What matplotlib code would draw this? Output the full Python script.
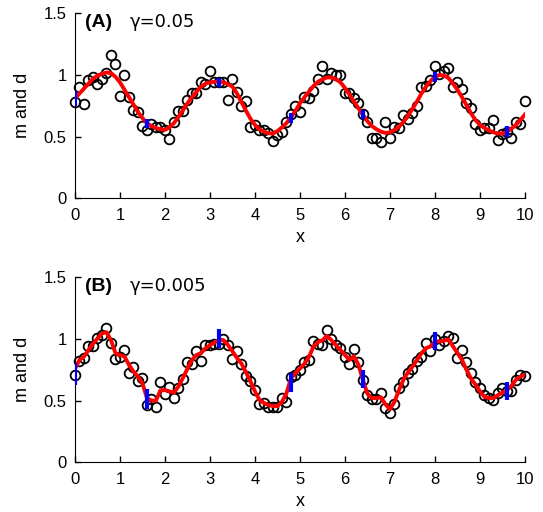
import numpy as np
import matplotlib.pyplot as plt

plt.rcParams['font.family'] = ['Liberation Sans', 'DejaVu Sans']

x = np.round(np.arange(0, 10.01, 0.1), 1)

# panel A (gamma = 0.05)
data_a = [0.78, 0.905, 0.765, 0.96, 0.98, 0.93, 0.97, 1.02, 1.16, 1.09,
          0.83, 1.0, 0.82, 0.72, 0.70, 0.59, 0.555, 0.60, 0.575, 0.575,
          0.555, 0.48, 0.62, 0.71, 0.71, 0.80, 0.85, 0.85, 0.94, 0.93,
          1.03, 0.94, 0.94, 0.94, 0.80, 0.97, 0.86, 0.75, 0.79, 0.575,
          0.595, 0.555, 0.55, 0.53, 0.465, 0.51, 0.535, 0.615, 0.685, 0.75,
          0.70, 0.82, 0.81, 0.87, 0.965, 1.07, 0.97, 1.02, 1.0, 1.0,
          0.85, 0.85, 0.81, 0.775, 0.685, 0.615, 0.485, 0.49, 0.455, 0.62,
          0.485, 0.575, 0.57, 0.675, 0.645, 0.69, 0.745, 0.90, 0.91, 0.96,
          1.07, 1.01, 1.03, 1.06, 0.905, 0.94, 0.885, 0.77, 0.73, 0.60,
          0.55, 0.57, 0.57, 0.635, 0.475, 0.52, 0.54, 0.485, 0.62, 0.60,
          0.79]
fit_a = [0.81, 0.85, 0.89, 0.93, 0.97, 0.995, 1.01, 1.02, 1.015, 0.985,
         0.94, 0.88, 0.82, 0.76, 0.70, 0.65, 0.61, 0.585, 0.57, 0.56,
         0.555, 0.575, 0.61, 0.66, 0.715, 0.77, 0.82, 0.865, 0.905, 0.93,
         0.94, 0.945, 0.945, 0.94, 0.925, 0.905, 0.85, 0.78, 0.71, 0.645,
         0.595, 0.56, 0.54, 0.527, 0.525, 0.545, 0.575, 0.61, 0.655, 0.71,
         0.77, 0.82, 0.865, 0.91, 0.945, 0.965, 0.98, 0.98, 0.965, 0.94,
         0.895, 0.84, 0.785, 0.73, 0.675, 0.625, 0.585, 0.56, 0.54, 0.53,
         0.535, 0.555, 0.58, 0.62, 0.67, 0.725, 0.785, 0.85, 0.905, 0.95,
         0.985, 1.0, 0.995, 0.975, 0.93, 0.88, 0.82, 0.755, 0.69, 0.635,
         0.595, 0.57, 0.55, 0.535, 0.525, 0.525, 0.54, 0.565, 0.595, 0.635,
         0.68]
bar_x = [0, 1.6, 3.2, 4.8, 6.4, 8.0, 9.6]
lo_a = [0.749, 0.573, 0.904, 0.608, 0.643, 0.94, 0.50]
hi_a = [0.873, 0.643, 0.978, 0.689, 0.716, 1.022, 0.586]

# panel B (gamma = 0.005)
data_b = [0.71, 0.82, 0.845, 0.945, 0.94, 1.01, 1.03, 1.09, 0.97, 0.835,
          0.85, 0.91, 0.725, 0.77, 0.66, 0.68, 0.465, 0.51, 0.45, 0.65,
          0.555, 0.61, 0.525, 0.60, 0.675, 0.81, 0.80, 0.905, 0.82, 0.955,
          0.95, 0.96, 0.96, 1.0, 0.955, 0.835, 0.905, 0.80, 0.70, 0.66,
          0.59, 0.47, 0.48, 0.45, 0.45, 0.45, 0.52, 0.485, 0.69, 0.71,
          0.75, 0.815, 0.83, 0.98, 0.96, 0.955, 1.075, 1.0, 0.95, 0.925,
          0.855, 0.80, 0.915, 0.815, 0.665, 0.545, 0.51, 0.51, 0.56, 0.44,
          0.40, 0.47, 0.60, 0.655, 0.72, 0.755, 0.82, 0.85, 0.97, 0.90,
          1.0, 0.95, 0.985, 1.02, 1.005, 0.845, 0.91, 0.815, 0.72, 0.655,
          0.60, 0.545, 0.525, 0.505, 0.56, 0.60, 0.575, 0.575, 0.67, 0.71,
          0.70]
fit_b = [0.76, 0.83, 0.857, 0.91, 0.96, 1.005, 1.045, 1.055, 0.99, 0.885,
         0.87, 0.857, 0.79, 0.735, 0.695, 0.64, 0.52, 0.50, 0.50, 0.585,
         0.585, 0.575, 0.565, 0.615, 0.685, 0.76, 0.83, 0.87, 0.885, 0.925,
         0.95, 0.97, 0.995, 0.99, 0.95, 0.90, 0.845, 0.80, 0.73, 0.655,
         0.575, 0.505, 0.48, 0.465, 0.455, 0.455, 0.49, 0.56, 0.68, 0.725,
         0.76, 0.80, 0.855, 0.94, 0.975, 0.99, 1.025, 0.99, 0.95, 0.91,
         0.87, 0.83, 0.86, 0.79, 0.665, 0.555, 0.52, 0.52, 0.527, 0.47,
         0.43, 0.49, 0.585, 0.67, 0.73, 0.775, 0.83, 0.885, 0.925, 0.94,
         0.98, 0.98, 0.985, 0.997, 0.94, 0.885, 0.83, 0.75, 0.68, 0.63,
         0.575, 0.53, 0.52, 0.52, 0.545, 0.565, 0.585, 0.62, 0.67, 0.695,
         0.71]
lo_b = [0.627, 0.432, 0.924, 0.573, 0.60, 0.91, 0.505]
hi_b = [0.808, 0.592, 1.078, 0.727, 0.749, 1.054, 0.654]

panels = [("(A)", "γ=0.05", data_a, fit_a, lo_a, hi_a),
          ("(B)", "γ=0.005", data_b, fit_b, lo_b, hi_b)]

fig = plt.figure(figsize=(5.43, 5.12), dpi=100)
bottoms = [0.6127, 0.0971]

for (tag, gam, dat, fit, lo, hi), b in zip(panels, bottoms):
    ax = fig.add_axes([0.1381, b, 0.8287, 0.3613])
    ax.plot(x, dat, 'o', mfc='none', mec='black', ms=7, mew=1.3, zorder=2,
            clip_on=False)
    ax.plot(x, fit, color='red', lw=2.8, zorder=3)
    ax.vlines(bar_x, lo, hi, color='blue', lw=3, zorder=4)
    ax.set_xlim(0, 10)
    ax.set_ylim(0, 1.5)
    ax.set_xticks(range(0, 11))
    ax.set_yticks([0, 0.5, 1, 1.5])
    ax.set_yticklabels(['0', '0.5', '1', '1.5'])
    ax.spines['top'].set_visible(False)
    ax.spines['right'].set_visible(False)
    ax.tick_params(direction='in', length=4, labelsize=12, width=1)
    ax.tick_params(axis='x', pad=7)
    ax.tick_params(axis='y', pad=6)
    ax.set_xlabel('x', fontsize=13, labelpad=4)
    ax.set_ylabel('m and d', fontsize=13, labelpad=9)
    ax.text(0.022, 0.925, tag, transform=ax.transAxes, fontsize=14,
            fontweight='bold', va='baseline')
    ax.text(0.122, 0.925, gam, transform=ax.transAxes, fontsize=13,
            va='baseline', family='DejaVu Sans')

fig.savefig('out.png', dpi=100)
